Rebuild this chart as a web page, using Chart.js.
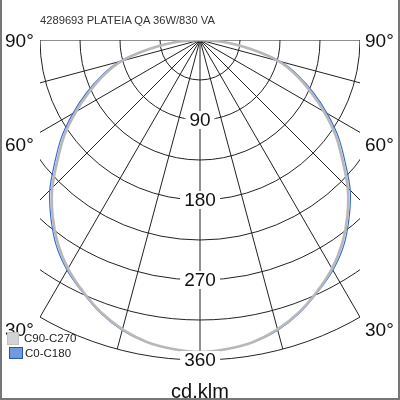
<!DOCTYPE html>
<html>
<head>
<meta charset="utf-8">
<script src="https://cdn.jsdelivr.net/npm/chart.js@4/dist/chart.umd.min.js"></script>
<style>
  html, body { margin: 0; padding: 0; background: #fff; }
  #wrap { position: relative; width: 400px; height: 400px; overflow: hidden;
          font-family: "Liberation Sans", Arial, sans-serif; color: #111; }
  #c { position: absolute; left: 0; top: 0; }
  .t { position: absolute; white-space: nowrap; line-height: 1; }
  .ang { font-size: 19px; }
  .rl { font-size: 19px; line-height: 18px; background: #fff; padding: 0 4px;
        transform: translate(-50%, -50%); }
  .title { left: 40px; top: 15px; font-size: 11.2px; color: #333; }
  .unit { left: 200px; top: 381px; font-size: 20px; transform: translateX(-50%); }
  .lg { font-size: 11.5px; color: #222; left: 24px; }
  .sw { position: absolute; box-sizing: border-box; }
  #frame { position: absolute; left: 0; top: 0; width: 400px; height: 400px; box-sizing: border-box;
           border-left: 2px solid #777; border-right: 2px solid #777; border-bottom: 2px solid #777;
           pointer-events: none; }
</style>
</head>
<body>
<div id="wrap">
  <canvas id="c" width="400" height="400"></canvas>
  <div class="t title">4289693 PLATEIA QA 36W/830 VA</div>
  <div class="t ang" style="left:5px;top:31px">90°</div>
  <div class="t ang" style="left:5px;top:135px">60°</div>
  <div class="t ang" style="left:5px;top:320px">30°</div>
  <div class="t ang" style="left:365px;top:31px">90°</div>
  <div class="t ang" style="left:365px;top:135px">60°</div>
  <div class="t ang" style="left:365px;top:320px">30°</div>
  <div id="rlabels"></div>
  <div class="sw" style="left:7px;top:332px;width:12px;height:13px;background:#d3d3d3;border:1px solid #c2c2c2"></div>
  <div class="t lg" style="top:333px">C90-C270</div>
  <div class="sw" style="left:9px;top:347px;width:14px;height:12px;background:#7299dc;border:1px solid #2a56b0"></div>
  <div class="t lg" style="top:348px;left:25px">C0-C180</div>
  <div class="t unit">cd.klm</div>
  <div id="frame"></div>
</div>
<script>
// gamma angle (deg), negative = left half of the diagram
const ANGLES = [-90,-85,-80,-75,-70,-65,-60,-55,-50,-45,-40,-35,-30,-25,-20,-15,-10,-5,
                0,5,10,15,20,25,30,35,40,45,50,55,60,65,70,75,80,85,90];
// luminous intensity, cd/klm
const C90_C270 = [0,27,57,91,115,137,161,186,209,235,258,279,297,312,326,337,345,349,
                  351,349,345,337,326,312,297,279,258,235,209,186,161,137,115,91,57,27,0];
const C0_C180  = [0,28,59,94,118,141,165,190,213,239,261,282,299,313,327,338,345,349,
                  351,349,345,338,327,313,299,282,261,239,213,190,165,141,118,94,59,28,0];
const RINGS = [45,90,135,180,225,270,315,360];
const RING_LABELS = [90,180,270,360];
const RAYS = [-90,-75,-60,-45,-30,-15,0,15,30,45,60,75,90];
const R_MAX = 360;

const rad = d => d * Math.PI / 180;
const toXY = (vals) => vals.map((v, i) => ({ x: v * Math.sin(rad(ANGLES[i])), y: v * Math.cos(rad(ANGLES[i])) }));

const polarGrid = {
  id: "polarGrid",
  beforeDatasetsDraw(chart) {
    const { ctx, chartArea: a, scales: { x, y } } = chart;
    const cx = x.getPixelForValue(0), cy = y.getPixelForValue(0);
    const k = Math.abs(y.getPixelForValue(1) - cy);
    ctx.save();
    ctx.beginPath(); ctx.rect(a.left, a.top, a.right - a.left, a.bottom - a.top + 1); ctx.clip();
    ctx.strokeStyle = "#222"; ctx.lineWidth = 1;
    RINGS.forEach(r => { ctx.beginPath(); ctx.arc(cx, cy, r * k, 0, Math.PI); ctx.stroke(); });
    RAYS.forEach(d => {
      ctx.beginPath(); ctx.moveTo(cx, cy);
      ctx.lineTo(cx + R_MAX * k * Math.sin(rad(d)), cy + R_MAX * k * Math.cos(rad(d)));
      ctx.stroke();
    });
    ctx.restore();
  },
  afterDraw(chart) {
    const { x, y } = chart.scales;
    const host = document.getElementById("rlabels");
    host.innerHTML = RING_LABELS.map(v =>
      `<div class="t rl" style="left:${x.getPixelForValue(0)}px;top:${y.getPixelForValue(v)}px">${v}</div>`).join("");
  },
};

new Chart(document.getElementById("c"), {
  type: "scatter",
  data: {
    datasets: [
      { label: "C90-C270", data: toXY(C90_C270), showLine: true, borderColor: "#b8b8b8", borderWidth: 2.6,
        pointRadius: 0, tension: 0.35, order: 0 },
      { label: "C0-C180", data: toXY(C0_C180), showLine: true, borderColor: "#3a6cd6", borderWidth: 1.2,
        pointRadius: 0, tension: 0.35, order: 1 },
    ],
  },
  options: {
    responsive: false, animation: false,
    layout: { padding: { left: 40, top: 40, right: 40, bottom: 40 } },
    plugins: { legend: { display: false }, tooltip: { enabled: false } },
    scales: {
      x: { display: false, min: -180, max: 180 },
      y: { display: false, min: 0, max: 360, reverse: true },
    },
  },
  plugins: [polarGrid],
});
</script>
</body>
</html>
